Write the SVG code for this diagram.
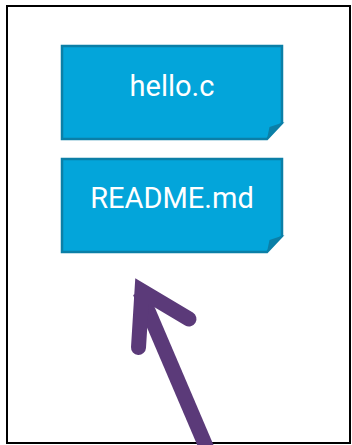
<svg xmlns="http://www.w3.org/2000/svg" width="352" height="445" viewBox="0 0 352 445">
  <style>
    .body { fill: #03a5da; stroke: #0b7fa7; stroke-width: 2.5; stroke-linejoin: miter; }
    .fold { fill: #0b7fa7; }
    .label { font-family: Roboto, "Liberation Sans", sans-serif; font-size: 29px; fill: #ffffff; text-anchor: middle; }
    .arrow { fill: none; stroke: #5b3a79; stroke-width: 15; }
  </style>
  <rect x="7" y="6" width="343" height="437" fill="#ffffff" stroke="#000000" stroke-width="2"/>
  <g id="hello_c">
    <path class="body" d="M62,46 H282 V123 L267,139 H62 Z"/>
    <path class="fold" d="M267,139 L269.5,127 L284.5,122 Z"/>
    <text class="label" x="172" y="96">hello.c</text>
  </g>
  <g id="readme_md">
    <path class="body" d="M62,159 H282 V236 L267,252 H62 Z"/>
    <path class="fold" d="M267,252 L269.5,240 L284.5,235 Z"/>
    <text class="label" x="172" y="208">README.md</text>
  </g>
  <g id="connectors">
    <line class="arrow" x1="207.5" y1="450" x2="140" y2="292"/>
    <polyline class="arrow" points="138.5,347.5 142,291 189,319" stroke-linecap="round" stroke-linejoin="miter"/>
  </g>
</svg>
